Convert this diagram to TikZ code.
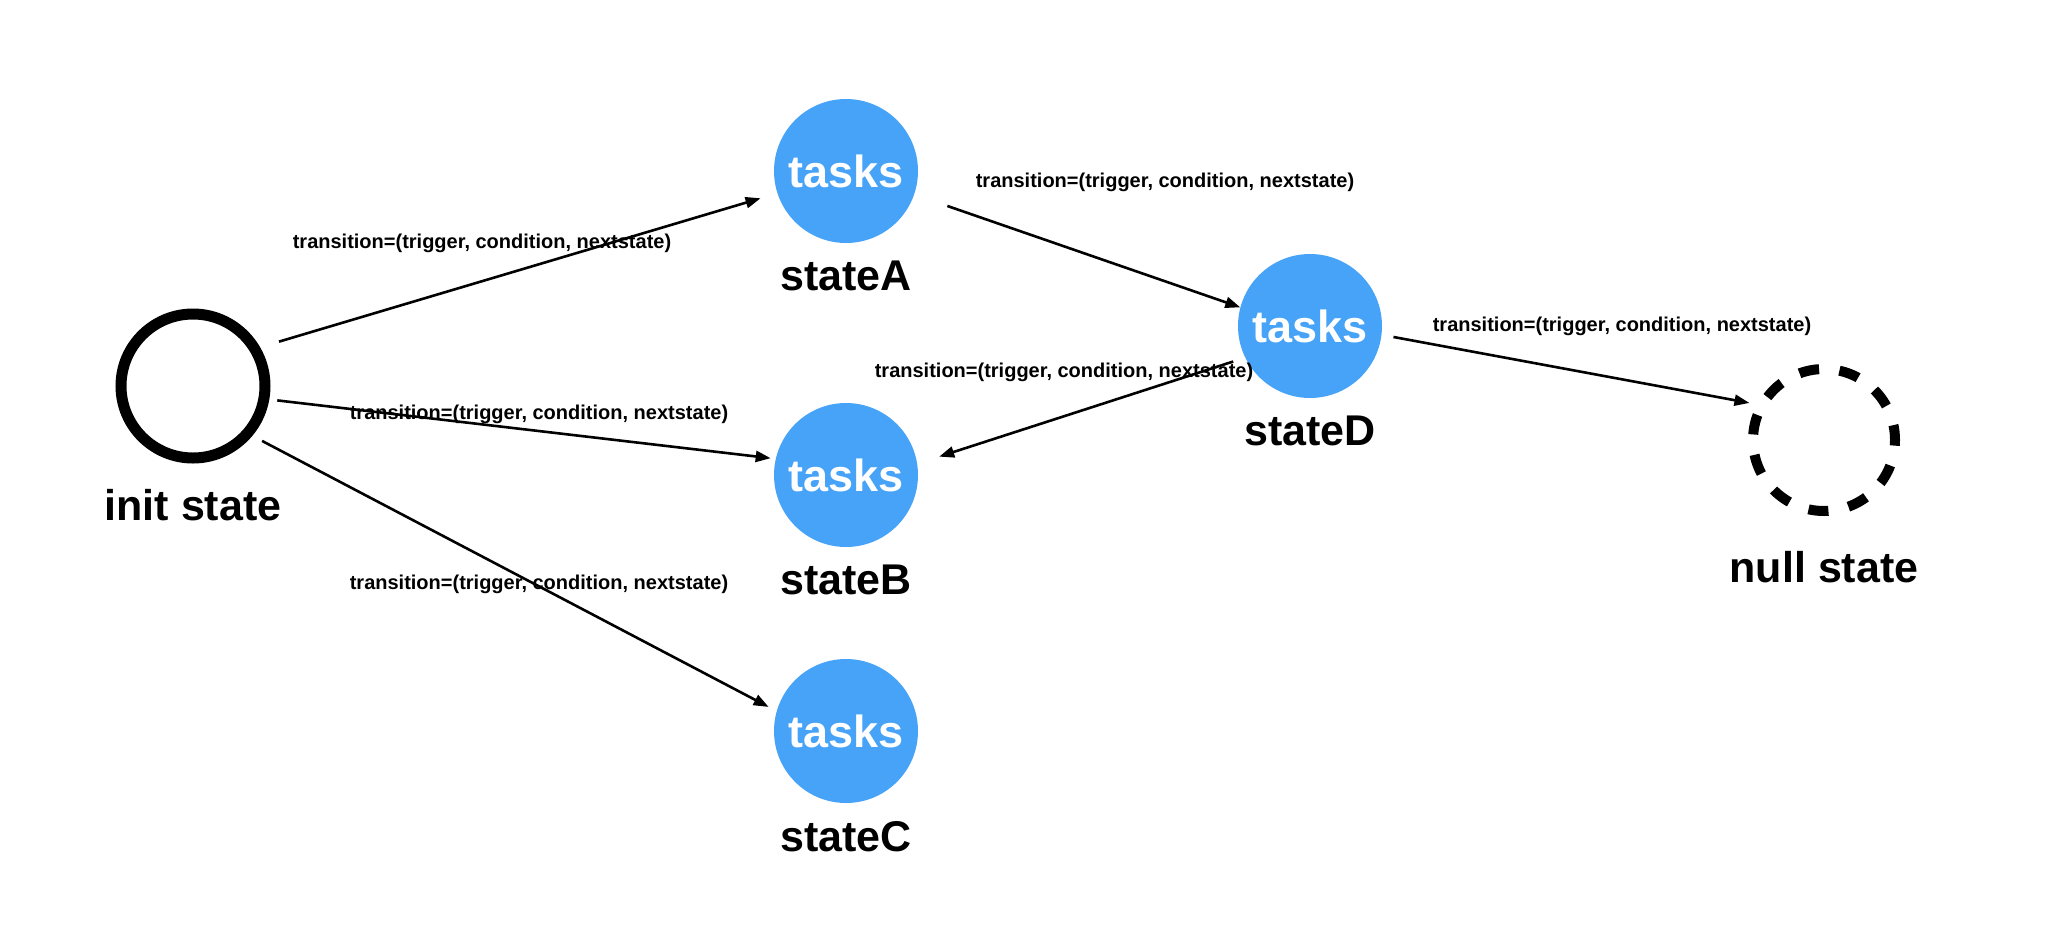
\documentclass[tikz,border=0pt]{standalone}
\usepackage{fontspec}
\setmainfont{Liberation Sans}
\usetikzlibrary{arrows.meta, positioning}
\definecolor{taskblue}{RGB}{71,163,247}

\begin{document}
\begin{tikzpicture}[x=1pt, y=-1pt,
  taskstate/.style={circle, fill=taskblue, minimum size=144pt, inner sep=0pt, text=white, font=\fontsize{45}{54}\selectfont\bfseries},
  statename/.style={inner sep=0pt, font=\fontsize{43}{52}\selectfont\bfseries},
  translabel/.style={inner sep=0pt, font=\fontsize{20}{24}\selectfont\bfseries},
  trans/.style={-{Triangle[length=15pt, width=11pt]}, line width=2.6pt}]
  \useasboundingbox (0,0) rectangle (2048,938);

  % States
  \node[circle, draw, line width=11pt, minimum size=144pt, inner sep=0pt] (init) at (193,386) {};
  \node[taskstate] (stateA) at (846,171) {tasks};
  \node[taskstate] (stateB) at (846,475) {tasks};
  \node[taskstate] (stateC) at (846,731) {tasks};
  \node[taskstate] (stateD) at (1310,326) {tasks};
  \node[circle, draw, line width=10pt, dash pattern=on 20pt off 20.5pt, dash phase=5pt, minimum size=142pt, inner sep=0pt] (null) at (1824,440) {};

  \node[statename, below=26pt of init] (initname) {init state};
  \node[statename, below=18pt of stateA] (nameA) {stateA};
  \node[statename, below=18pt of stateB] (nameB) {stateB};
  \node[statename, below=18pt of stateC] (nameC) {stateC};
  \node[statename, below=18pt of stateD] (nameD) {stateD};
  \node[statename, below=35pt of null] (nullname) {null state};

  % Transition labels
  \node[translabel] (labelA) at (482,243) {transition=(trigger, condition, nextstate)};
  \node[translabel] (labelB) at (539,414) {transition=(trigger, condition, nextstate)};
  \node[translabel] (labelC) at (539,584) {transition=(trigger, condition, nextstate)};
  \node[translabel] (labelAD) at (1165,182) {transition=(trigger, condition, nextstate)};
  \node[translabel] (labelDB) at (1064,372) {transition=(trigger, condition, nextstate)};
  \node[translabel] (labelDN) at (1622,326) {transition=(trigger, condition, nextstate)};

  % Arrows
  \draw[trans, shorten <=19.7pt, shorten >=17.5pt] (init.30) -- (stateA.198);
  \draw[trans, shorten <=8pt, shorten >=5pt] (init.-10) -- (stateB.167);
  \draw[trans, shorten <=11pt, shorten >=9pt] (init.-40) -- (stateC.164);
  \draw[trans, shorten <=35pt] (stateA.-19) -- (stateD.165);
  \draw[trans, shorten <=12.5pt, shorten >=23pt] (stateD.206) -- (stateB.9);
  \draw[trans, shorten <=12pt, shorten >=7.6pt] (stateD.-7.5) -- (null.152);
\end{tikzpicture}
\end{document}
